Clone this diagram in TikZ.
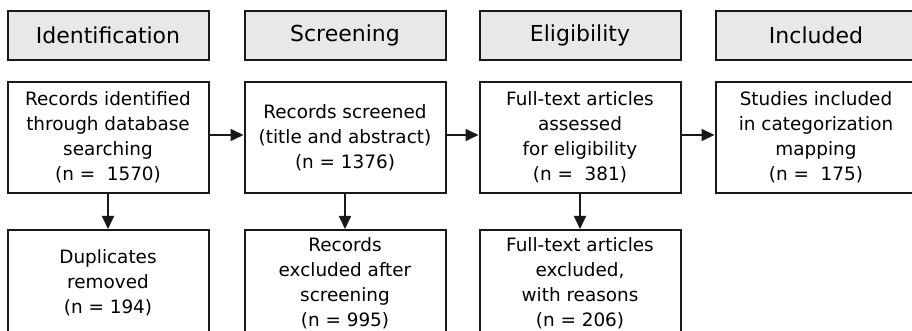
\documentclass[tikz,border=0pt]{standalone}
\usepackage{fontspec}
\setmainfont{DejaVu Sans}
\usetikzlibrary{arrows.meta, positioning}
\definecolor{mainBlack}{gray}{0.1}
\definecolor{headGray}{gray}{0.91}

\begin{document}
\begin{tikzpicture}[x=0.5pt, y=-0.5pt, >={Triangle[length=6.5pt, width=6pt]},
    stage/.style={draw=mainBlack, line width=1pt, fill=headGray, minimum width=100.5pt, minimum height=24.5pt, inner sep=0pt, font=\fontsize{11pt}{13pt}\selectfont},
    record/.style={draw=mainBlack, line width=1pt, fill=white, minimum width=100.5pt, minimum height=55.5pt, inner sep=0pt, align=center, font=\fontsize{9.2pt}{12.5pt}\selectfont},
    removed/.style={record, minimum height=53pt},
    flow/.style={->, line width=0.85pt, mainBlack}]
    \useasboundingbox (0,0) rectangle (912,331);
    \clip (0,0) rectangle (912,331);

    % Stage headers
    \node[stage] (idHead) at (108,35.5) {Identification};
    \node[stage] (scHead) at (345,35.5) {Screening};
    \node[stage] (elHead) at (580,35.5) {Eligibility};
    \node[stage] (inHead) at (816,35.5) {Included};

    % Records kept at each stage
    \node[record, below=10pt of idHead] (idMain) {Records identified\\ through database\\ searching\\ (n = \ 1570)};
    \node[record, below=10pt of scHead] (scMain) {Records screened\\ (title and abstract)\\ (n = 1376)};
    \node[record, below=10pt of elHead] (elMain) {Full-text articles\\ assessed\\ for eligibility\\ (n = \ 381)};
    \node[record, below=10pt of inHead] (inMain) {Studies included\\ in categorization\\ mapping\\ (n = \ 175)};

    % Records dropped
    \node[removed, below=17.5pt of idMain] (idOut) {Duplicates\\ removed\\ (n = 194)};
    \node[removed, below=17.5pt of scMain] (scOut) {Records\\ excluded after\\ screening\\ (n = 995)};
    \node[removed, below=17.5pt of elMain] (elOut) {Full-text articles\\ excluded,\\ with reasons\\ (n = 206)};

    % Flow
    \draw[flow] ([yshift=1.25pt]idMain.east) -- ([yshift=1.25pt]scMain.west);
    \draw[flow] ([yshift=1.25pt]scMain.east) -- ([yshift=1.25pt]elMain.west);
    \draw[flow] ([yshift=1.25pt]elMain.east) -- ([yshift=1.25pt]inMain.west);
    \draw[flow] (idMain) -- (idOut);
    \draw[flow] (scMain) -- (scOut);
    \draw[flow] (elMain) -- (elOut);
\end{tikzpicture}
\end{document}
